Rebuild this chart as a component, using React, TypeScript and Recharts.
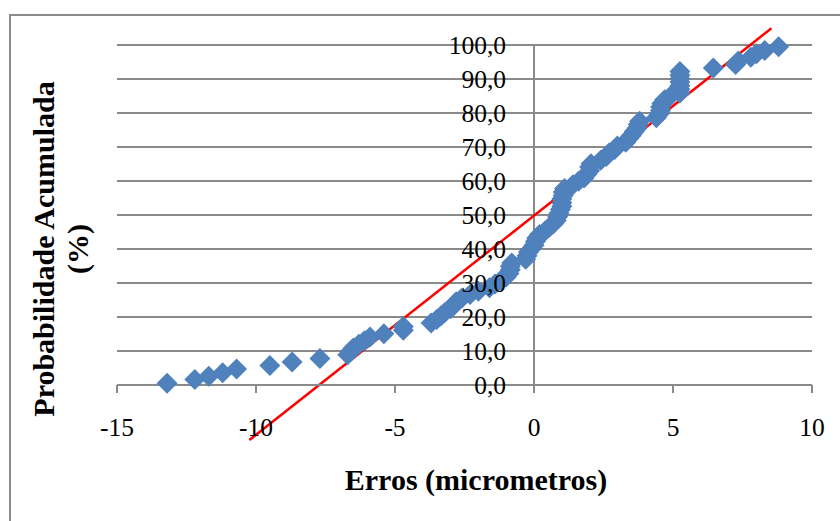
import React from 'react';
import {
  ScatterChart,
  Scatter,
  XAxis,
  YAxis,
  CartesianGrid,
  ReferenceLine,
  ReferenceDot,
} from 'recharts';

// Errors (micrometres) of each observation, sorted
const errosX = [
  -13.2, -12.2, -11.7, -11.2, -10.7, -9.5, -8.7, -7.7,
  -6.7, -6.6, -6.5, -6.3, -6.1, -5.9, -5.4, -4.7, -4.7,
  -3.7, -3.5, -3.35, -3.2, -3.0, -2.9, -2.8, -2.6, -2.3, -2.0,
  -1.6, -1.4, -1.2, -1.0, -0.9, -0.85, -0.85, -0.8,
  -0.3, -0.25, -0.2, -0.1, 0.0, 0.05, 0.1, 0.2, 0.4, 0.55, 0.7, 0.8,
  0.85, 0.9, 0.95, 1.0, 1.0, 1.0, 1.05, 1.05, 1.1,
  1.4, 1.6, 1.8, 1.9, 2.0, 2.0, 2.05, 2.4, 2.6, 2.7, 2.9, 3.0,
  3.3, 3.4, 3.5, 3.6, 3.7, 3.75, 3.8,
  4.4, 4.5, 4.55, 4.55, 4.6, 4.7, 4.9,
  5.25, 5.25, 5.25, 5.25, 5.25, 5.25, 5.25,
  6.45, 7.25, 7.35, 7.8, 8.0, 8.3, 8.8,
];

// Cumulative probability (%) of each observation
const probY = [
  0.5, 1.6, 2.6, 3.6, 4.7, 5.7, 6.8, 7.8,
  8.9, 9.9, 10.9, 12.0, 13.0, 14.1, 15.1, 16.1, 17.2,
  18.2, 19.3, 20.3, 21.4, 22.4, 23.4, 24.5, 25.5, 26.6, 27.6,
  28.6, 29.7, 30.7, 31.8, 32.8, 33.9, 34.9, 35.9,
  37.0, 38.0, 39.1, 40.1, 41.1, 42.2, 43.2, 44.3, 45.3, 46.4, 47.4, 48.4,
  49.5, 50.5, 51.6, 52.6, 53.6, 54.7, 55.7, 56.8, 57.8,
  58.9, 59.9, 60.9, 62.0, 63.0, 64.1, 65.1, 66.1, 67.2, 68.2, 69.3, 70.3,
  71.4, 72.4, 73.4, 74.5, 75.5, 76.6, 77.6,
  78.6, 79.7, 80.7, 81.8, 82.8, 83.9, 84.9,
  85.9, 87.0, 88.0, 89.1, 90.1, 91.1, 92.2,
  93.2, 94.3, 95.3, 96.4, 97.4, 98.4, 99.5,
];

// Linear trend line end points
const trendX = [-10.24, 8.54];
const trendY = [-16.2, 104.9];

const xTicks = [-15, -10, -5, 0, 5, 10];
const yTicks = [0, 10, 20, 30, 40, 50, 60, 70, 80, 90, 100];
const yTickLabels = ['0,0', '10,0', '20,0', '30,0', '40,0', '50,0', '60,0', '70,0', '80,0', '90,0', '100,0'];

const xTitle = 'Erros (micrometros)';
const yTitleLines = ['Probabilidade Acumulada', '(%)'];

const points = errosX.map((x, i) => ({ x, y: probY[i] }));

const FONT = "'Times New Roman', 'Liberation Serif', serif";
const BLUE = '#4F81BD';
const GRID = '#8a8a8a';

const Diamond = (props: any) => {
  const { cx, cy } = props;
  if (cx == null || cy == null) return null;
  const r = 10.5;
  return (
    <path
      d={`M${cx},${cy - r}L${cx + r},${cy}L${cx},${cy + r}L${cx - r},${cy}Z`}
      fill={BLUE}
    />
  );
};

export default function App() {
  return (
    <div
      style={{
        position: 'absolute',
        left: 0,
        top: 0,
        width: 840,
        height: 521,
        overflow: 'hidden',
        background: '#fff',
      }}
    >
      <div
        style={{
          position: 'absolute',
          left: 9,
          top: 14,
          width: 900,
          height: 600,
          border: '2px solid #8c8c8c',
          boxSizing: 'border-box',
        }}
      />
      <div style={{ position: 'absolute', left: 0, top: 0 }}>
        <ScatterChart
          width={840}
          height={521}
          margin={{ top: 45, left: 117, right: 28, bottom: 96 }}
        >
          <CartesianGrid
            horizontal={true}
            vertical={false}
            stroke={GRID}
            strokeWidth={2}
          />
          <XAxis
            type="number"
            dataKey="x"
            domain={[-15, 10]}
            ticks={xTicks}
            height={40}
            tickSize={8}
            tickMargin={25}
            axisLine={{ stroke: GRID, strokeWidth: 2 }}
            tickLine={{ stroke: GRID, strokeWidth: 2 }}
            tick={{ fill: '#000', fontSize: 25.5, fontFamily: FONT }}
            interval={0}
          />
          <YAxis
            type="number"
            dataKey="y"
            domain={[0, 100]}
            ticks={yTicks}
            hide
          />
          <ReferenceLine x={0} stroke={GRID} strokeWidth={2} />
          <Scatter
            data={points}
            shape={<Diamond />}
            isAnimationActive={false}
          />
          <ReferenceLine
            segment={[
              { x: trendX[0], y: trendY[0] },
              { x: trendX[1], y: trendY[1] },
            ]}
            stroke="#FF0000"
            strokeWidth={2.5}
            ifOverflow="visible"
          />
          {yTicks.map((v, i) => (
            <ReferenceDot
              key={v}
              x={0}
              y={v}
              r={0}
              fill="none"
              stroke="none"
              ifOverflow="visible"
              label={{
                value: yTickLabels[i],
                position: 'left',
                offset: 28,
                fill: '#000',
                fontSize: 25.5,
                fontFamily: FONT,
              }}
            />
          ))}
        </ScatterChart>
      </div>
      <div
        style={{
          position: 'absolute',
          left: 476 - 200,
          top: 463,
          width: 400,
          textAlign: 'center',
          fontFamily: FONT,
          fontWeight: 'bold',
          fontSize: 30,
          lineHeight: '34px',
          color: '#000',
          whiteSpace: 'nowrap',
        }}
      >
        {xTitle}
      </div>
      <div
        style={{
          position: 'absolute',
          left: 61 - 200,
          top: 249 - 34,
          width: 400,
          height: 68,
          transform: 'rotate(-90deg)',
          transformOrigin: '50% 50%',
          textAlign: 'center',
          fontFamily: FONT,
          fontWeight: 'bold',
          fontSize: 30,
          lineHeight: '34px',
          color: '#000',
          whiteSpace: 'nowrap',
        }}
      >
        <div>{yTitleLines[0]}</div>
        <div>{yTitleLines[1]}</div>
      </div>
    </div>
  );
}
